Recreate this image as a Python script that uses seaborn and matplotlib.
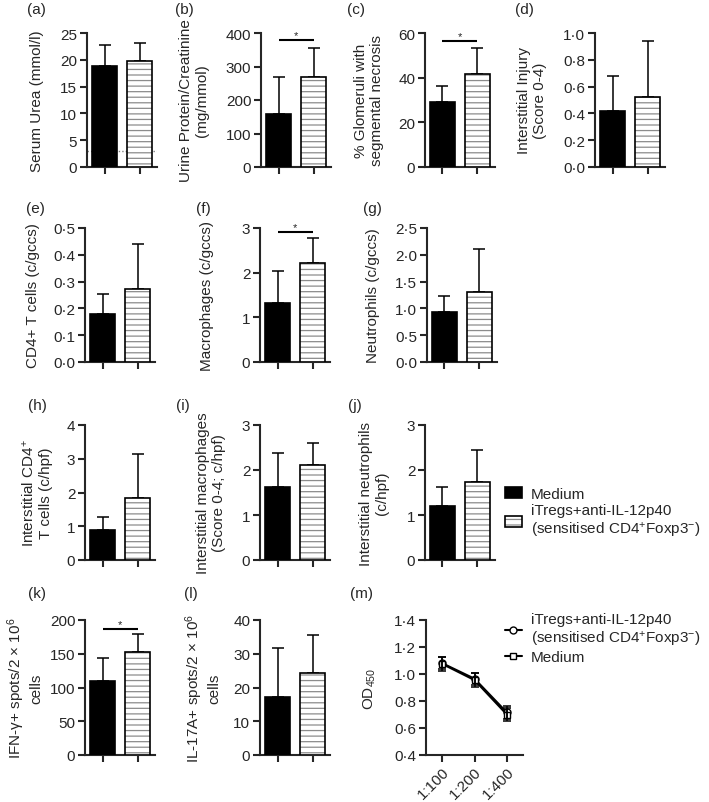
import matplotlib.pyplot as plt
import matplotlib.ticker as mticker
import numpy as np
import pandas as pd
import seaborn as sns

# ---- data (mean, SD) ----
groups = ["Medium", "iTregs"]
legend_labels = ["Medium", "iTregs+anti-IL-12p40\n(sensitised CD4$^{+}$Foxp3$^{-}$)"]

urea_mean = [18.8, 19.7]
urea_sd = [3.95, 3.35]
urea_normal = 3.0

protein_mean = [157, 270]
protein_sd = [113, 86]
protein_sig = 379

necrosis_mean = [29.2, 41.7]
necrosis_sd = [6.9, 11.8]
necrosis_sig = 56.2

injury_mean = [0.415, 0.523]
injury_sd = [0.265, 0.419]

cd4_mean = [0.178, 0.274]
cd4_sd = [0.074, 0.165]

macro_mean = [1.31, 2.21]
macro_sd = [0.73, 0.56]
macro_sig = 2.9

neut_mean = [0.935, 1.30]
neut_sd = [0.295, 0.80]

int_cd4_mean = [0.88, 1.84]
int_cd4_sd = [0.38, 1.31]

int_macro_mean = [1.63, 2.12]
int_macro_sd = [0.74, 0.47]

int_neut_mean = [1.21, 1.74]
int_neut_sd = [0.42, 0.70]

ifng_mean = [110, 152]
ifng_sd = [34, 27]
ifng_sig = 186

il17_mean = [17.1, 24.3]
il17_sd = [14.6, 11.4]

dilutions = ["1:100", "1:200", "1:400"]
od_groups = ["iTregs+anti-IL-12p40\n(sensitised CD4$^{+}$Foxp3$^{-}$)", "Medium"]
od_itregs = [1.08, 0.965, 0.715]
od_itregs_sd = [0.045, 0.045, 0.045]
od_medium = [1.075, 0.955, 0.700]
od_medium_sd = [0.05, 0.05, 0.05]

# ---- style ----
sns.set_style("ticks")
plt.rcParams["font.family"] = ["Liberation Sans", "DejaVu Sans"]
plt.rcParams["mathtext.fontset"] = "custom"
plt.rcParams["mathtext.rm"] = "Liberation Sans"
plt.rcParams["mathtext.it"] = "Liberation Sans:italic"
plt.rcParams["mathtext.bf"] = "Liberation Sans:bold"
plt.rcParams["hatch.linewidth"] = 0.9

FS = 11
W, H = 709, 803
fig = plt.figure(figsize=(W / 100, H / 100), dpi=100)


def add_ax(left, top, width, height):
    return fig.add_axes([left / W, 1 - (top + height) / H, width / W, height / H])


def dot_fmt(dec):
    return mticker.FuncFormatter(lambda v, p: f"{v:.{dec}f}".replace(".", "\u00b7"))


def finish(ax, rect, ylim, nticks, dec, ylabel, label_x):
    sns.despine(ax=ax)
    ax.set_ylim(*ylim)
    ax.set_yticks(np.linspace(ylim[0], ylim[1], nticks))
    ax.yaxis.set_major_formatter(dot_fmt(dec))
    for s in ("left", "bottom"):
        ax.spines[s].set_linewidth(1.5)
    ax.tick_params(direction="out", length=5, width=1.5, labelsize=FS, pad=2)
    ax.set_xlabel("")
    ax.set_ylabel(ylabel, fontsize=FS, va="center", linespacing=1.2)
    ax.yaxis.set_label_coords((label_x - rect[0]) / rect[2], 0.5)


def bar_panel(rect, means, sds, ylim, nticks, dec, ylabel, label_x, sig=None):
    ax = add_ax(*rect)
    df = pd.DataFrame({"group": groups, "value": means})
    sns.barplot(data=df, x="group", y="value", hue="group", palette=["black", "white"],
                edgecolor="black", linewidth=1.2, width=0.7, errorbar=None,
                legend=False, ax=ax, zorder=3)
    ax.patches[1].set_hatch("---")
    ax.patches[1]._hatch_color = (0.55, 0.55, 0.55, 1)
    ax.errorbar(x=[0, 1], y=means, yerr=[[0, 0], sds], fmt="none", ecolor="black",
                elinewidth=1.1, capsize=4, capthick=1.1, zorder=2)
    ax.set_xlim(-0.5, 1.5)
    ax.set_xticks([0, 1])
    ax.set_xticklabels([])
    if sig is not None:
        ax.plot([0, 1], [sig, sig], color="black", lw=1.5, solid_capstyle="butt")
        ax.text(0.5, sig, "*", ha="center", va="bottom", fontsize=8)
    finish(ax, rect, ylim, nticks, dec, ylabel, label_x)
    return ax


BW = 70
# row 1
ax_a = bar_panel((87, 34, BW, 134), urea_mean, urea_sd, (0, 25), 6, 0,
                 "Serum Urea (mmol/l)", 37)
ax_a.axhline(urea_normal, color="grey", lw=1, ls=(0, (1, 1.5)), zorder=1)
bar_panel((261, 34, BW, 134), protein_mean, protein_sd, (0, 400), 5, 0,
          "Urine Protein/Creatinine\n(mg/mmol)", 194, sig=protein_sig)
bar_panel((425, 34, BW, 134), necrosis_mean, necrosis_sd, (0, 60), 4, 0,
          "% Glomeruli with\nsegmental necrosis", 369, sig=necrosis_sig)
bar_panel((595, 34, BW, 134), injury_mean, injury_sd, (0, 1.0), 6, 1,
          "Interstitial Injury\n(Score 0-4)", 532)

# row 2
bar_panel((85, 229, BW, 134), cd4_mean, cd4_sd, (0, 0.5), 6, 1,
          "CD4+ T cells (c/gccs)", 33)
bar_panel((260, 229, BW, 134), macro_mean, macro_sd, (0, 3), 4, 0,
          "Macrophages (c/gccs)", 207, sig=macro_sig)
bar_panel((427, 229, BW, 134), neut_mean, neut_sd, (0, 2.5), 6, 1,
          "Neutrophils (c/gccs)", 373)

# row 3
bar_panel((85, 426, BW, 135), int_cd4_mean, int_cd4_sd, (0, 4), 5, 0,
          "Interstitial CD4$^{+}$\nT cells (c/hpf)", 37)
bar_panel((260, 426, BW, 135), int_macro_mean, int_macro_sd, (0, 3), 4, 0,
          "Interstitial macrophages\n(Score 0-4; c/hpf)", 211)
ax_j = bar_panel((425, 426, BW, 135), int_neut_mean, int_neut_sd, (0, 3), 4, 0,
                 "Interstitial neutrophils\n(c/hpf)", 374)

fig.legend(ax_j.patches[:2], legend_labels, loc="upper left",
           bbox_to_anchor=(505 / W, 1 - 488 / H), frameon=False, fontsize=FS,
           handlelength=1.1, handleheight=0.7, handletextpad=0.6,
           labelspacing=0.15, borderpad=0, borderaxespad=0)

# row 4
bar_panel((85, 621, BW, 135), ifng_mean, ifng_sd, (0, 200), 5, 0,
          "IFN-\u03b3+ spots/2 \u00d7 10$^{6}$\ncells", 24, sig=ifng_sig)
bar_panel((260, 621, BW, 135), il17_mean, il17_sd, (0, 40), 5, 0,
          "IL-17A+ spots/2 \u00d7 10$^{6}$\ncells", 202)

# (m) ELISA
rect_m = (426, 621, 97, 135)
ax_m = add_ax(*rect_m)
df_m = pd.DataFrame({
    "dilution": dilutions * 2,
    "od": od_itregs + od_medium,
    "group": [od_groups[0]] * 3 + [od_groups[1]] * 3,
})
sns.lineplot(data=df_m, x="dilution", y="od", hue="group", style="group",
             hue_order=od_groups, style_order=od_groups, palette=["black", "black"],
             markers=["o", "s"], dashes=False, markersize=5, markerfacecolor="white",
             markeredgecolor="black", markeredgewidth=1, linewidth=1.5,
             errorbar=None, sort=False, legend=False, ax=ax_m)
line_handles = list(ax_m.lines[:2])
xpos = np.arange(len(dilutions))
for mean, sd in [(od_itregs, od_itregs_sd), (od_medium, od_medium_sd)]:
    ax_m.errorbar(xpos, mean, yerr=sd, fmt="none", ecolor="black", elinewidth=1.1,
                  capsize=3, capthick=1.1)
ax_m.set_xlim(-0.5, 2.5)
ax_m.set_xticks(xpos)
ax_m.set_xticklabels(dilutions, rotation=45, ha="right", rotation_mode="anchor")
finish(ax_m, rect_m, (0.4, 1.4), 6, 1, "OD$_{450}$", 370)
fig.legend(line_handles, od_groups, loc="upper left",
           bbox_to_anchor=(505 / W, 1 - 613 / H), frameon=False, fontsize=FS,
           handlelength=1.1, handletextpad=0.6, labelspacing=0.15,
           borderpad=0, borderaxespad=0)

# panel letters
letters = [("(a)", 27, 3), ("(b)", 175, 3), ("(c)", 347, 3), ("(d)", 515, 3),
           ("(e)", 26, 202), ("(f)", 196, 202), ("(g)", 363, 202),
           ("(h)", 28, 399), ("(i)", 176, 399), ("(j)", 348, 399),
           ("(k)", 28, 587), ("(l)", 184, 587), ("(m)", 350, 587)]
for txt, x, y in letters:
    fig.text(x / W, 1 - y / H, txt, fontsize=FS, ha="left", va="top")

plt.savefig("out.png", dpi=100)
